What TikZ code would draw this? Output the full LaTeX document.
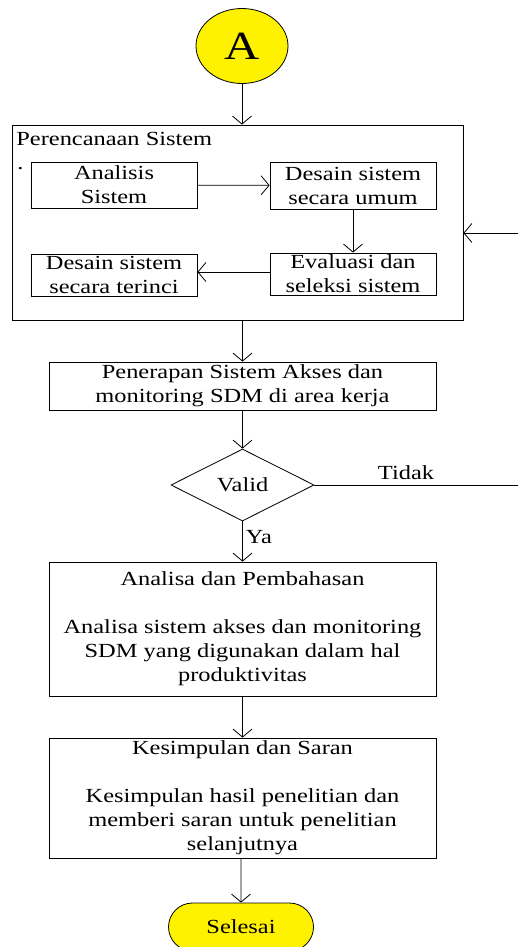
\documentclass[tikz,border=0pt]{standalone}
\usepackage{fontspec}
\setmainfont[FakeStretch=1.22]{Liberation Serif}
\usetikzlibrary{arrows.meta,shapes.geometric,shapes.misc}

\tikzset{
    >={Straight Barb[length=8pt,width=19pt]},
    box/.style={draw, rectangle, align=center, inner sep=0pt},
    every node/.style={font=\fontsize{20}{24}\selectfont},
}

\begin{document}
\begin{tikzpicture}[x=1pt, y=-1pt, line width=0.8pt]
        \useasboundingbox (0, 0) rectangle (518, 947);

        \node[draw, ellipse, fill=yellow, minimum width=92, minimum height=75, inner sep=0pt,
              font=\fontsize{40}{44}\selectfont] (A) at (242, 46) {A};

        \node[box, minimum width=451, minimum height=195] (plan) at (237.5, 222.5) {};
        \node[anchor=base west, inner sep=0pt] (plantitle) at (16, 146) {Perencanaan Sistem};
        \node[anchor=base west, inner sep=0pt] (dot) at (17, 169) {.};

        \node[box, minimum width=166, minimum height=46] (analisis) at (114, 185) {Analisis\\Sistem};
        \node[box, minimum width=166, minimum height=47] (umum)     at (353, 185.5) {Desain sistem\\secara umum};
        \node[box, minimum width=166, minimum height=42] (evaluasi) at (353, 274) {Evaluasi dan\\seleksi sistem};
        \node[box, minimum width=166, minimum height=42] (terinci)  at (114, 275) {Desain sistem\\secara terinci};

        \node[box, minimum width=387, minimum height=48] (penerapan) at (242.5, 386)
            {Penerapan Sistem Akses dan\\monitoring SDM di area kerja};
        \node[draw, diamond, minimum width=143, minimum height=72, inner sep=0pt] (valid) at (242.5, 485) {Valid};
        \node[box, minimum width=387, minimum height=134] (analisa) at (242.5, 629)
            {Analisa dan Pembahasan\\[24pt]Analisa sistem akses dan monitoring\\SDM yang digunakan dalam hal\\produktivitas};
        \node[box, minimum width=387, minimum height=120] (kesimpulan) at (242.5, 798)
            {Kesimpulan dan Saran\\[24pt]Kesimpulan hasil penelitian dan\\memberi saran untuk penelitian\\selanjutnya};
        \node[draw, rounded rectangle, fill=yellow, minimum width=145, minimum height=48, inner sep=0pt] (selesai) at (241, 927) {Selesai};

        \coordinate (fb) at (518, 233);
        \coordinate (tidak) at (518, 485);

        \path[->]
            (A) edge (A |- plan.north)
            (penerapan |- plan.south) edge (penerapan)
            (analisis) edge (umum)
            (umum) edge (evaluasi)
            (evaluasi.west |- 0, 272) edge (terinci.east |- 0, 272)
            (penerapan) edge (valid)
            (valid) edge node[right, pos=0.4, inner sep=3pt] {Ya} (analisa)
            (analisa) edge (kesimpulan)
            (kesimpulan.south -| selesai) edge (selesai)
            (fb) edge (plan.east |- fb);
        \draw (valid.east) -- node[above=2pt, pos=0.45] {Tidak} (tidak);
    \end{tikzpicture}
\end{document}
